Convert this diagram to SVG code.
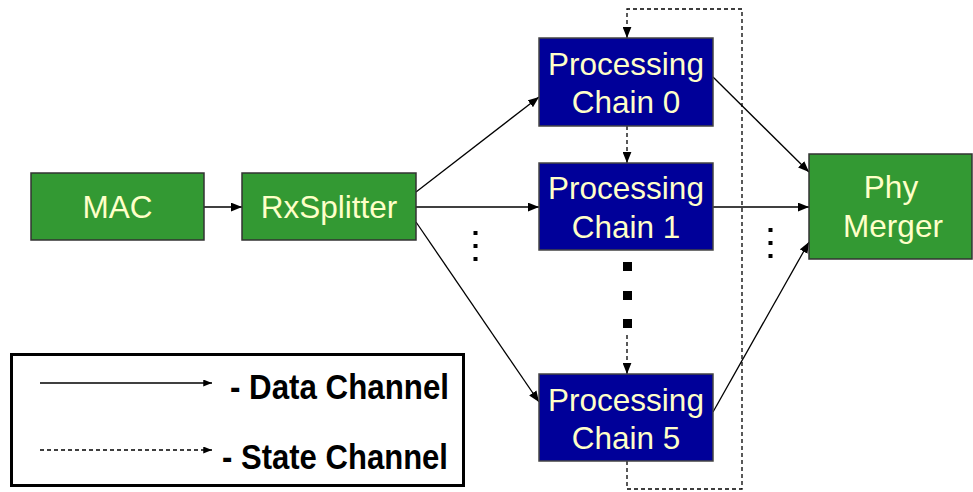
<svg xmlns="http://www.w3.org/2000/svg" width="973" height="492" viewBox="0 0 973 492">
<defs>
<style>
.green{fill:#339933;stroke:#333;stroke-width:1.5}
.blue{fill:#000099;stroke:#444;stroke-width:1.5}
.lbl{font-family:"Liberation Sans",Arial,sans-serif;font-size:31.5px;fill:#FFFFC8;text-anchor:middle}
.data{fill:none;stroke:#000;stroke-width:1.3}
.state{fill:none;stroke:#000;stroke-width:1.3;stroke-dasharray:4,3}
.leg{font-family:"Liberation Sans",Arial,sans-serif;font-size:35px;font-weight:bold;fill:#000}
.dot{fill:#000}
</style>
<marker id="ah" viewBox="0 0 10 8" refX="10" refY="4" markerWidth="11" markerHeight="9" markerUnits="userSpaceOnUse" orient="auto">
<path d="M0,0 L10,4 L0,8 z" fill="#000"/>
</marker>
<marker id="ahs" viewBox="0 0 10 8" refX="10" refY="4" markerWidth="9" markerHeight="7" markerUnits="userSpaceOnUse" orient="auto">
<path d="M0,0 L10,4 L0,8 z" fill="#000"/>
</marker>
</defs>
<rect width="973" height="492" fill="#fff"/>
<g id="connectors">
<line class="data" x1="204" y1="207" x2="242" y2="207" marker-end="url(#ah)"/>
<line class="data" x1="416" y1="192" x2="539" y2="97" marker-end="url(#ah)"/>
<line class="data" x1="416" y1="207" x2="539" y2="207" marker-end="url(#ah)"/>
<line class="data" x1="416" y1="222" x2="539" y2="402" marker-end="url(#ah)"/>
<line class="data" x1="713" y1="77" x2="809" y2="172" marker-end="url(#ah)"/>
<line class="data" x1="713" y1="207" x2="809" y2="207" marker-end="url(#ah)"/>
<line class="data" x1="713" y1="412" x2="809" y2="242" marker-end="url(#ah)"/>
<path class="state" d="M627,461 V489 H742 V9 H627 V38" marker-end="url(#ah)"/>
<line class="state" x1="627" y1="126" x2="627" y2="163" marker-end="url(#ah)"/>
<line class="state" x1="627" y1="335" x2="627" y2="374" marker-end="url(#ah)"/>
</g>
<g id="MAC">
<rect class="green" x="31" y="173" width="173" height="67"/>
<text class="lbl" x="117.5" y="218">MAC</text>
</g>
<g id="RxSplitter">
<rect class="green" x="242" y="173" width="174" height="67"/>
<text class="lbl" x="329" y="218">RxSplitter</text>
</g>
<g id="chain0">
<rect class="blue" x="539" y="38" width="174" height="88"/>
<text class="lbl" x="626" y="75">Processing</text>
<text class="lbl" x="626" y="113">Chain 0</text>
</g>
<g id="chain1">
<rect class="blue" x="539" y="163" width="174" height="87"/>
<text class="lbl" x="626" y="199">Processing</text>
<text class="lbl" x="626" y="238">Chain 1</text>
</g>
<g id="chain5">
<rect class="blue" x="539" y="374" width="174" height="87"/>
<text class="lbl" x="626" y="411">Processing</text>
<text class="lbl" x="626" y="449">Chain 5</text>
</g>
<g id="PhyMerger">
<rect class="green" x="809" y="154" width="163" height="105"/>
<text class="lbl" x="891" y="198">Phy</text>
<text class="lbl" x="893" y="237">Merger</text>
</g>
<g id="ellipses">
<rect class="dot" x="473.5" y="231" width="4" height="4"/>
<rect class="dot" x="473.5" y="244" width="4" height="4"/>
<rect class="dot" x="473.5" y="257" width="4" height="4"/>
<rect class="dot" x="768.5" y="228" width="4" height="4"/>
<rect class="dot" x="768.5" y="241" width="4" height="4"/>
<rect class="dot" x="768.5" y="254" width="4" height="4"/>
<rect class="dot" x="623" y="262" width="9" height="9"/>
<rect class="dot" x="623" y="291" width="9" height="9"/>
<rect class="dot" x="623" y="319" width="9" height="9"/>
</g>
<g id="legend">
<rect x="11.5" y="354.5" width="452" height="131" fill="#fff" stroke="#000" stroke-width="3"/>
<line class="data" x1="40" y1="383" x2="212" y2="383" marker-end="url(#ahs)"/>
<text class="leg" x="230" y="399" textLength="219" lengthAdjust="spacingAndGlyphs">- Data Channel</text>
<line class="state" x1="40" y1="450" x2="212" y2="450" marker-end="url(#ahs)"/>
<text class="leg" x="222" y="469" textLength="226" lengthAdjust="spacingAndGlyphs">- State Channel</text>
</g>
</svg>
